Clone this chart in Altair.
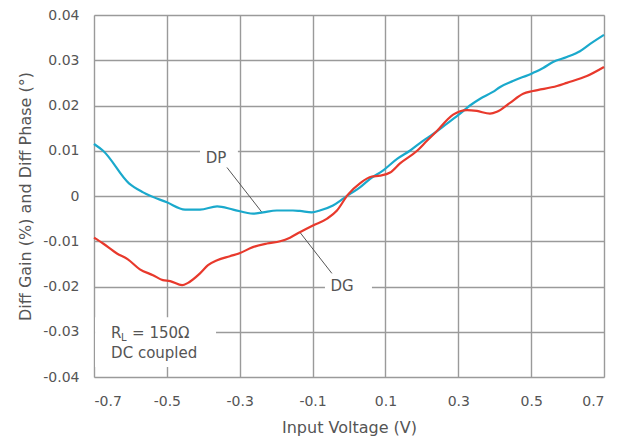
import altair as alt
import pandas as pd

# ---- data ----
dp_x = [-0.7, -0.675, -0.604, -0.565, -0.5, -0.45, -0.409, -0.362, -0.318, -0.263, -0.236, -0.198,
        -0.154, -0.135, -0.102, -0.08, -0.044, -0.016, 0.0, 0.03, 0.058, 0.093, 0.132, 0.167, 0.203,
        0.231, 0.269, 0.305, 0.332, 0.36, 0.395, 0.415, 0.45, 0.505, 0.533, 0.56, 0.598, 0.634, 0.662, 0.7]
dp_y = [0.0115, 0.01, 0.0028, 0.0008, -0.0014, -0.003, -0.003, -0.0023, -0.003, -0.0039, -0.0036, -0.0032,
        -0.0032, -0.0033, -0.0036, -0.0032, -0.0021, -0.0006, 0.0003, 0.0019, 0.0038, 0.0056, 0.0082, 0.01, 0.0122,
        0.0137, 0.016, 0.0182, 0.02, 0.0215, 0.023, 0.0241, 0.0254, 0.0272, 0.0283, 0.0296, 0.0307, 0.032, 0.0336, 0.0356]

dg_x = [-0.7, -0.675, -0.637, -0.607, -0.574, -0.538, -0.511, -0.491, -0.458, -0.442, -0.409, -0.387,
        -0.362, -0.327, -0.299, -0.264, -0.225, -0.189, -0.162, -0.135, -0.099, -0.06, -0.033, -0.003,
        0.03, 0.063, 0.085, 0.113, 0.14, 0.187, 0.214, 0.242, 0.269, 0.286, 0.324, 0.351, 0.387, 0.406,
        0.442, 0.478, 0.505, 0.571, 0.598, 0.653, 0.7]
dg_y = [-0.0092, -0.0105, -0.0127, -0.014, -0.0162, -0.0175, -0.0186, -0.0188, -0.0197, -0.0192, -0.0171, -0.0153,
        -0.0142, -0.0133, -0.0126, -0.0113, -0.0105, -0.01, -0.0092, -0.008, -0.0065, -0.005, -0.0032, 0.0003,
        0.0028, 0.0043, 0.0045, 0.0052, 0.0072, 0.01, 0.0122, 0.0144, 0.0168, 0.018, 0.019, 0.0188, 0.0182, 0.0186,
        0.0206, 0.0226, 0.0232, 0.0243, 0.025, 0.0265, 0.0285]

x_ticks = [round(-0.7 + 0.1 * i, 1) for i in range(15)]
y_ticks = [round(-0.04 + 0.01 * i, 2) for i in range(9)]

# annotation anchors (data coordinates)
label_boxes = pd.DataFrame({
    "x": [-0.409, -0.066, -0.697], "x2": [-0.305, 0.063, -0.365],
    "y": [0.0118, -0.018, -0.0268], "y2": [0.0056, -0.0226, -0.0378]})
leaders = pd.DataFrame({"x": [-0.335, -0.135], "y": [0.0063, -0.008],
                        "x2": [-0.239, -0.047], "y2": [-0.0036, -0.0171]})
series_labels = pd.DataFrame({"x": [-0.365, -0.019], "y": [0.0085, -0.0199], "t": ["DP", "DG"]})

FONT = "DejaVu Sans"
GREY = "#555555"

df = pd.concat([
    pd.DataFrame({"v": dp_x, "val": dp_y, "s": "DP"}),
    pd.DataFrame({"v": dg_x, "val": dg_y, "s": "DG"}),
])

xs = alt.Scale(domain=[-0.7, 0.7], nice=False, zero=False)
ys = alt.Scale(domain=[-0.04, 0.04], nice=False, zero=False)

x_axis = alt.Axis(values=x_ticks, title="Input Voltage (V)", grid=True, ticks=False, domain=False,
                  labelExpr="abs(round(datum.value*10)) % 2 == 1 ? replace(format(datum.value, '.1f'), '\u2212', '-') : ''",
                  labelFont=FONT, labelFontSize=14, labelColor=GREY, labelPadding=17,
                  titleFont=FONT, titleFontSize=16, titleFontWeight="normal", titleColor=GREY, titlePadding=11,
                  gridColor="#9a9a9a", gridWidth=1.4)
y_axis = alt.Axis(values=y_ticks, title="Diff Gain (%) and Diff Phase (°)", grid=True, ticks=False, domain=False,
                  labelExpr="replace(format(datum.value, '.2~f'), '\u2212', '-')",
                  labelFont=FONT, labelFontSize=14, labelColor=GREY, labelPadding=15,
                  titleFont=FONT, titleFontSize=16, titleFontWeight="normal", titleColor=GREY, titlePadding=9,
                  gridColor="#9a9a9a", gridWidth=1.4)

boxes = alt.Chart(label_boxes).mark_rect(fill="white").encode(
    x=alt.X("x:Q", scale=xs, axis=x_axis), x2="x2", y=alt.Y("y:Q", scale=ys, axis=y_axis), y2="y2")

lead = alt.Chart(leaders).mark_rule(color="#555555", strokeWidth=1).encode(
    x="x:Q", x2="x2", y="y:Q", y2="y2")

lines = alt.Chart(df).mark_line(strokeWidth=2.2, interpolate="monotone").encode(
    x="v:Q", y="val:Q",
    color=alt.Color("s:N", scale=alt.Scale(domain=["DP", "DG"], range=["#1aa9cc", "#e8392c"]), legend=None),
    detail="s:N")

slabels = alt.Chart(series_labels).mark_text(font=FONT, fontSize=15, color=GREY).encode(
    x="x:Q", y="y:Q", text="t:N")

note_r = alt.Chart(pd.DataFrame({"x": [-0.653], "y": [-0.0303], "t": ["R"]})).mark_text(
    font=FONT, fontSize=15, color=GREY, align="left").encode(x="x:Q", y="y:Q", text="t:N")
note_l = alt.Chart(pd.DataFrame({"x": [-0.653], "y": [-0.0303], "t": ["L"]})).mark_text(
    font=FONT, fontSize=10, color=GREY, align="left", dx=10, dy=5).encode(x="x:Q", y="y:Q", text="t:N")
note_eq = alt.Chart(pd.DataFrame({"x": [-0.653], "y": [-0.0303], "t": ["= 150Ω"]})).mark_text(
    font=FONT, fontSize=15, color=GREY, align="left", dx=21).encode(x="x:Q", y="y:Q", text="t:N")
note_dc = alt.Chart(pd.DataFrame({"x": [-0.653], "y": [-0.0347], "t": ["DC coupled"]})).mark_text(
    font=FONT, fontSize=15, color=GREY, align="left").encode(x="x:Q", y="y:Q", text="t:N")

chart = alt.layer(boxes, lead, lines, slabels, note_r, note_l, note_eq, note_dc).properties(
    width=510, height=362,
    autosize=alt.AutoSizeParams(type="none"),
    padding={"left": 86, "top": 7, "right": 14, "bottom": 59},
).configure_view(stroke="#555555", strokeWidth=2.5).configure(background="white")

chart.save("out.html", embed_options={"renderer": "svg", "actions": False})
